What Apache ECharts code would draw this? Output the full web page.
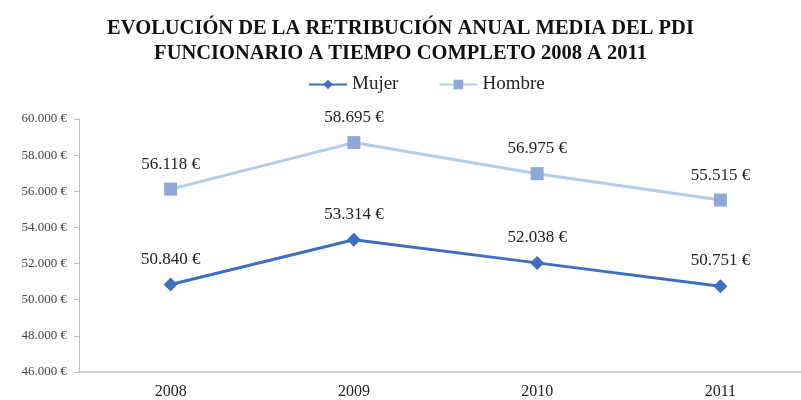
<!DOCTYPE html>
<html><head><meta charset="utf-8">
<script src="https://cdn.jsdelivr.net/npm/echarts@6/dist/echarts.min.js"></script>
<style>html,body{margin:0;padding:0;background:#fff}#c{width:801px;height:400px}</style>
</head><body><div id="c"></div>
<script>
const years = ['2008','2009','2010','2011'];
const mujer = [50840, 53314, 52038, 50751];
const hombre = [56118, 58695, 56975, 55515];
const titleText = 'EVOLUCIÓN DE LA RETRIBUCIÓN ANUAL MEDIA DEL PDI\nFUNCIONARIO A TIEMPO COMPLETO 2008 A 2011';

function euro(v){
  return String(Math.round(v)).replace(/\B(?=(\d{3})+(?!\d))/g,'.') + ' €';
}
const F = 'Liberation Serif';
const chart = echarts.init(document.getElementById('c'));
chart.setOption({
  backgroundColor:'#fff',
  animation:false,
  title:{text:titleText,left:'center',top:11,textStyle:{fontFamily:'Liberation Serif',fontSize:20.5,fontWeight:'bold',color:'#111',lineHeight:25}},
  legend:{top:70,left:303,itemWidth:38,itemHeight:12,itemGap:40,textStyle:{fontFamily:F,fontSize:19,color:'#222'},
    data:['Mujer','Hombre']},
  grid:{left:79,top:119,width:733,height:253,outerBoundsMode:'none',containLabel:false},
  xAxis:{type:'category',data:years,boundaryGap:true,
    axisLine:{lineStyle:{color:'#BFBFBF',width:1.5}},axisTick:{show:false},
    axisLabel:{fontFamily:F,fontSize:16,color:'#222',margin:12}},
  yAxis:{type:'value',min:46000,max:60000,interval:2000,
    axisLine:{show:true,lineStyle:{color:'#BFBFBF'}},axisTick:{show:true,length:5,lineStyle:{color:'#BFBFBF'}},
    splitLine:{show:false},
    axisLabel:{fontFamily:F,fontSize:13,color:'#444',margin:12,formatter:euro}},
  series:[
    {name:'Mujer',type:'line',data:mujer,symbol:'diamond',symbolSize:14,
      lineStyle:{color:'#3D6EC0',width:3},itemStyle:{color:'#3D6EC0'},
      label:{show:true,position:'top',distance:10,fontFamily:F,fontSize:17,color:'#222',formatter:p=>euro(p.value)}},
    {name:'Hombre',type:'line',data:hombre,symbol:'rect',symbolSize:13,
      lineStyle:{color:'#B4CCEC',width:3},itemStyle:{color:'#8FA8D8'},
      label:{show:true,position:'top',distance:10,fontFamily:F,fontSize:17,color:'#222',formatter:p=>euro(p.value)}}
  ]
});
</script></body></html>
